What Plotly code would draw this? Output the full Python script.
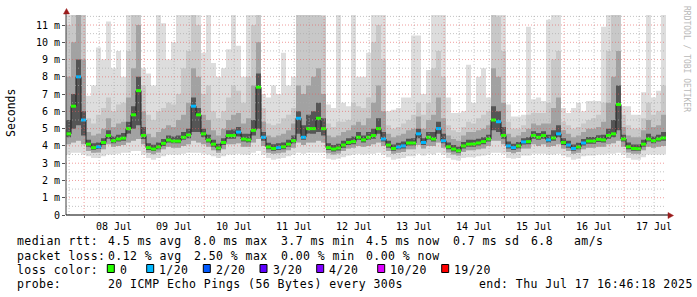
import pandas as pd
import plotly.graph_objects as go

# ---------------- data ----------------
START = "2025-07-07 16:46:18"
END = "2025-07-17 16:46:18"
STEP_HOURS = 2

median_ms = [4.7, 6.3, 8.0, 5.5, 4.1, 3.9, 3.95, 4.2, 4.6, 4.3,
             4.4, 4.45, 5.0, 5.8, 7.2, 4.6, 3.9, 3.82, 3.94, 4.15,
             4.34, 4.28, 4.28, 4.5, 4.63, 6.3, 5.8, 4.7, 4.34, 4.1,
             3.88, 4.2, 4.6, 4.6, 4.8, 4.4, 4.35, 4.9, 7.4, 4.5,
             3.94, 3.85, 3.9, 3.95, 4.1, 4.3, 5.6, 4.5, 5.0, 5.0,
             5.6, 5.0, 3.9, 3.82, 3.88, 4.05, 4.2, 4.25, 4.5, 4.35,
             4.5, 4.6, 5.0, 4.4, 4.05, 3.85, 3.94, 4.0, 4.17, 4.17,
             4.7, 4.2, 4.5, 4.4, 5.0, 4.3, 3.95, 3.82, 3.72, 4.0,
             4.1, 4.11, 4.17, 4.25, 4.4, 5.5, 5.4, 4.6, 4.0, 3.9,
             4.0, 4.23, 4.25, 4.6, 4.5, 4.6, 4.35, 4.46, 4.7, 4.2,
             4.05, 3.85, 3.94, 4.17, 4.28, 4.28, 4.38, 4.35, 4.6, 4.7,
             6.4, 4.4, 3.95, 3.85, 3.84, 4.1, 4.4, 4.3, 4.4, 4.46]

ping_min = [3.5, 3.6, 3.6, 3.5, 3.4, 3.3, 3.3, 3.4, 3.5, 3.5,
            3.55, 3.6, 3.6, 3.7, 3.7, 3.5, 3.3, 3.2, 3.3, 3.4,
            3.5, 3.5, 3.5, 3.55, 3.6, 3.6, 3.6, 3.55, 3.5, 3.4,
            3.3, 3.4, 3.5, 3.5, 3.55, 3.5, 3.5, 3.6, 3.7, 3.5,
            3.3, 3.2, 3.25, 3.3, 3.4, 3.5, 3.6, 3.55, 3.6, 3.6,
            3.6, 3.6, 3.25, 3.2, 3.25, 3.35, 3.45, 3.5, 3.55, 3.5,
            3.55, 3.55, 3.6, 3.5, 3.35, 3.2, 3.25, 3.3, 3.4, 3.4,
            3.55, 3.45, 3.55, 3.5, 3.6, 3.5, 3.3, 3.2, 3.15, 3.3,
            3.35, 3.35, 3.4, 3.45, 3.5, 3.6, 3.6, 3.55, 3.3, 3.25,
            3.3, 3.45, 3.45, 3.55, 3.55, 3.55, 3.5, 3.5, 3.55, 3.45,
            3.35, 3.2, 3.25, 3.4, 3.45, 3.45, 3.5, 3.5, 3.55, 3.55,
            3.6, 3.5, 3.3, 3.2, 3.2, 3.35, 3.5, 3.5, 3.5, 3.5]

ping_low = [4.1, 4.2, 4.3, 4.1, 3.7, 3.6, 3.62, 3.8, 4.1, 3.95,
            4.0, 4.05, 4.2, 4.3, 4.4, 4.1, 3.6, 3.52, 3.62, 3.8,
            3.95, 3.9, 3.9, 4.0, 4.1, 4.3, 4.2, 4.1, 3.95, 3.75,
            3.6, 3.8, 4.1, 4.1, 4.15, 3.95, 3.95, 4.2, 4.4, 4.0,
            3.6, 3.55, 3.58, 3.62, 3.75, 3.9, 4.2, 4.05, 4.2, 4.2,
            4.3, 4.2, 3.58, 3.5, 3.56, 3.7, 3.85, 3.9, 4.0, 3.95,
            4.0, 4.1, 4.2, 4.0, 3.7, 3.55, 3.6, 3.65, 3.8, 3.8,
            4.05, 3.85, 4.0, 4.0, 4.2, 3.9, 3.62, 3.5, 3.45, 3.65,
            3.75, 3.75, 3.8, 3.85, 4.0, 4.3, 4.3, 4.1, 3.65, 3.58,
            3.65, 3.85, 3.85, 4.1, 4.0, 4.1, 3.95, 4.0, 4.1, 3.85,
            3.7, 3.55, 3.6, 3.8, 3.9, 3.9, 3.95, 3.95, 4.1, 4.15,
            4.3, 3.95, 3.62, 3.55, 3.55, 3.75, 3.95, 3.9, 3.95, 4.0]

ping_lowmid = [4.5, 5.0, 5.2, 4.6, 3.95, 3.78, 3.82, 4.05, 4.42, 4.15,
               4.25, 4.3, 4.7, 5.0, 5.2, 4.4, 3.76, 3.7, 3.8, 4.0,
               4.2, 4.15, 4.15, 4.35, 4.45, 4.8, 4.8, 4.5, 4.2, 3.95,
               3.75, 4.05, 4.42, 4.42, 4.55, 4.25, 4.2, 4.6, 5.0, 4.3,
               3.8, 3.72, 3.76, 3.8, 3.95, 4.15, 4.7, 4.35, 4.7, 4.7,
               4.8, 4.6, 3.76, 3.68, 3.74, 3.9, 4.05, 4.1, 4.35, 4.2,
               4.35, 4.42, 4.7, 4.25, 3.9, 3.72, 3.8, 3.85, 4.02, 4.02,
               4.45, 4.05, 4.35, 4.25, 4.7, 4.15, 3.8, 3.68, 3.6, 3.85,
               3.95, 3.95, 4.02, 4.1, 4.25, 4.9, 4.8, 4.42, 3.85, 3.76,
               3.85, 4.08, 4.1, 4.42, 4.35, 4.42, 4.2, 4.3, 4.5, 4.05,
               3.9, 3.72, 3.8, 4.02, 4.12, 4.12, 4.22, 4.2, 4.42, 4.5,
               4.9, 4.25, 3.8, 3.72, 3.72, 3.95, 4.25, 4.15, 4.25, 4.3]

ping_upmid = [5.5, 7.0, 9.0, 6.0, 4.35, 4.15, 4.2, 4.45, 4.9, 4.55,
              4.65, 4.75, 5.4, 6.3, 8.0, 5.1, 4.15, 4.07, 4.2, 4.4,
              4.6, 4.55, 4.6, 4.8, 5.0, 6.8, 6.2, 5.0, 4.65, 4.35,
              4.12, 4.45, 4.9, 4.95, 5.1, 4.7, 4.7, 5.5, 8.2, 4.8,
              4.18, 4.1, 4.15, 4.2, 4.35, 4.6, 6.0, 5.2, 5.8, 6.0,
              6.5, 5.6, 4.15, 4.05, 4.12, 4.3, 4.45, 4.55, 4.8, 4.6,
              4.8, 5.0, 5.6, 4.8, 4.3, 4.08, 4.18, 4.25, 4.42, 4.45,
              5.0, 4.45, 4.8, 4.8, 5.4, 4.7, 4.2, 4.05, 3.95, 4.22,
              4.35, 4.35, 4.42, 4.5, 4.65, 6.3, 6.0, 5.1, 4.25, 4.12,
              4.22, 4.45, 4.5, 4.85, 4.75, 4.85, 4.65, 4.9, 5.2, 4.45,
              4.3, 4.08, 4.18, 4.4, 4.52, 4.52, 4.62, 4.65, 5.0, 5.5,
              7.5, 4.65, 4.2, 4.08, 4.08, 4.35, 4.7, 4.55, 4.65, 4.8]

ping_upper = [8.0, 10.0, 12, 9.0, 4.8, 4.6, 4.7, 5.0, 5.6, 5.1,
              5.3, 5.4, 6.8, 8.5, 11.0, 6.0, 4.7, 4.5, 4.8, 5.0,
              5.2, 5.1, 5.5, 5.8, 6.5, 8.5, 8.0, 5.8, 5.5, 4.9,
              4.6, 5.0, 5.5, 5.8, 5.9, 5.3, 5.6, 7.5, 10.0, 5.4,
              4.6, 4.5, 4.6, 4.7, 4.9, 5.3, 7.5, 7.0, 7.5, 8.0,
              8.5, 7.0, 4.6, 4.5, 4.6, 4.8, 4.9, 5.2, 5.4, 5.2,
              5.6, 6.5, 7.5, 6.0, 4.7, 4.5, 4.6, 4.7, 4.9, 5.0,
              5.7, 5.0, 5.5, 5.8, 6.8, 5.6, 4.6, 4.4, 4.3, 4.6,
              4.8, 4.8, 4.9, 5.0, 5.2, 8.5, 8.0, 6.5, 4.7, 4.5,
              4.6, 4.8, 5.0, 5.3, 5.2, 5.3, 5.3, 6.2, 6.8, 4.9,
              4.7, 4.5, 4.6, 4.8, 5.0, 5.0, 5.1, 5.4, 6.5, 8.0,
              9.5, 5.1, 4.6, 4.5, 4.5, 4.9, 5.5, 5.1, 5.2, 5.8]

ping_high = [11.0, 12, 12, 12, 5.6, 5.3, 5.8, 6.2, 6.8, 6.0,
             6.4, 6.5, 9.5, 12, 12, 7.5, 5.8, 5.5, 6.0, 6.2,
             6.5, 6.4, 7.0, 8.5, 9.5, 12, 11.0, 7.0, 7.5, 6.0,
             5.6, 6.0, 6.8, 7.5, 7.2, 6.5, 8.0, 11.0, 12, 6.2,
             5.3, 5.2, 5.3, 5.6, 5.8, 6.2, 12, 12, 12, 12,
             12, 11.5, 5.3, 5.1, 5.4, 5.4, 5.5, 6.5, 6.3, 6.2,
             6.8, 10.0, 11.0, 9.0, 5.2, 5.0, 5.1, 5.3, 5.5, 5.8,
             6.5, 5.8, 6.5, 8.5, 9.5, 8.0, 5.2, 4.9, 4.8, 5.1,
             5.4, 5.3, 5.6, 5.8, 6.0, 12, 11.5, 9.5, 5.4, 5.0,
             5.0, 5.2, 5.8, 5.9, 5.9, 5.9, 6.5, 9.0, 9.5, 5.4,
             5.2, 5.0, 5.1, 5.3, 5.5, 5.6, 5.8, 6.5, 9.5, 12,
             12, 5.8, 5.2, 5.0, 5.0, 5.6, 6.5, 5.8, 6.0, 7.5]

ping_max = [12, 12, 12, 12, 6.9, 7.5, 9.7, 9.0, 11.2, 8.5,
            9.5, 8.0, 12, 12, 12, 8.5, 8.2, 7.5, 12, 11.1,
            9.0, 10.0, 12, 12, 12, 12, 12, 9.4, 12, 8.8,
            8.0, 8.5, 9.6, 12, 9.8, 8.0, 12, 12, 12, 7.0,
            6.8, 7.5, 7.0, 9.4, 7.5, 8.0, 12, 12, 12, 12,
            12, 12, 6.4, 6.2, 12, 6.5, 6.3, 12, 8.0, 8.0,
            9.4, 12, 12, 12, 6.0, 6.1, 6.2, 6.8, 6.8, 10.4,
            10.4, 7.0, 8.4, 12, 12, 12, 6.8, 5.9, 5.9, 6.0,
            8.7, 6.5, 8.0, 8.5, 6.8, 12, 12, 12, 6.4, 5.7,
            5.7, 5.8, 10.9, 6.7, 6.8, 6.6, 11.3, 12, 12, 6.2,
            5.9, 6.2, 6.5, 6.0, 6.6, 6.6, 6.6, 10.9, 12, 12,
            12, 6.3, 6.3, 5.8, 5.8, 7.1, 12, 6.8, 7.2, 12]

loss_count = [0, 0, 1, 1, 0, 0, 1, 0, 0, 0,
              0, 0, 0, 0, 0, 0, 0, 0, 0, 0,
              0, 0, 0, 0, 0, 1, 0, 0, 0, 0,
              0, 0, 0, 0, 1, 0, 0, 0, 0, 1,
              0, 0, 1, 0, 0, 0, 1, 1, 0, 0,
              0, 0, 0, 0, 0, 0, 0, 0, 0, 0,
              0, 0, 0, 1, 0, 0, 1, 1, 0, 0,
              1, 1, 0, 0, 1, 1, 0, 0, 0, 0,
              0, 0, 0, 0, 0, 0, 1, 0, 1, 1,
              0, 1, 0, 0, 0, 0, 1, 0, 1, 0,
              1, 1, 0, 1, 0, 0, 0, 0, 0, 0,
              0, 0, 0, 0, 0, 0, 0, 0, 0, 0]

y_tick_vals = [0, 1, 2, 3, 4, 5, 6, 7, 8, 9, 10, 11]
y_tick_text = ["0", "1 m", "2 m", "3 m", "4 m", "5 m", "6 m", "7 m", "8 m", "9 m", "10 m", "11 m"]

loss_labels = ["0", "1/20", "2/20", "3/20", "4/20", "10/20", "19/20"]
loss_colors = ["#26ff00", "#00b8ff", "#0059ff", "#5e00ff", "#7e00ff", "#dd00ff", "#ff0000"]

stats_rows = [
    ["median rtt:", "4.5 ms avg", "8.0 ms max", "3.7 ms min", "4.5 ms now", "0.7 ms sd", "6.8", "am/s"],
    ["packet loss:", "0.12 % avg", "2.50 % max", "0.00 % min", "0.00 % now"],
]
probe_text = ["probe:", "20 ICMP Echo Pings (56 Bytes) every 300s", "end: Thu Jul 17 16:46:18 2025"]
watermark = "RRDTOOL / TOBI OETIKER"
y_title = "Seconds"

# ---------------- layout geometry (pixels) ----------------
W, H = 697, 297
PL, PR, PT, PB = 66, 666, 15, 215
Y_MAX = 11.58
MONO = "DejaVu Sans Mono"


def pxx(px):
    return (px - PL) / (PR - PL)


def pxy(py):
    return (PB - py) / (PB - PT)


start = pd.Timestamp(START)
end = pd.Timestamp(END)
n = len(median_ms)
edges = [start + pd.Timedelta(hours=STEP_HOURS * k) for k in range(n + 1)]


def ext(a):
    return list(a) + [a[-1]]


fig = go.Figure()

# smoke bands (outer -> inner)
bands = [(ping_min, ping_max, "#dddddd"),
         (ping_low, ping_high, "#c8c8c8"),
         (ping_low, ping_upper, "#a2a2a2"),
         (ping_lowmid, ping_upmid, "#555555")]
for lo, hi, col in bands:
    fig.add_trace(go.Scatter(x=edges, y=ext(lo), mode="lines", line=dict(width=0, shape="hv"),
                             hoverinfo="skip", showlegend=False))
    fig.add_trace(go.Scatter(x=edges, y=ext(hi), mode="lines", line=dict(width=0, shape="hv"),
                             fill="tonexty", fillcolor=col, hoverinfo="skip", showlegend=False))

# median line (dark step line)
fig.add_trace(go.Scatter(x=edges, y=ext(median_ms), mode="lines",
                         line=dict(color="#202020", width=1, shape="hv"),
                         hoverinfo="skip", showlegend=False))

# colored median segments by loss
for cls in sorted(set(loss_count)):
    xs, ys = [], []
    for i in range(n):
        if loss_count[i] == cls:
            xs += [edges[i], edges[i + 1], None]
            ys += [median_ms[i], median_ms[i], None]
    fig.add_trace(go.Scatter(x=xs, y=ys, mode="lines",
                             line=dict(color=loss_colors[cls], width=3),
                             hoverinfo="skip", showlegend=False))

shapes = []
# grid (drawn above, like rrdtool)
DOT = "1px,2px"
RED = "rgba(230,90,90,0.6)"
GRAY = "rgba(170,170,170,0.7)"
t = pd.Timestamp("2025-07-07 18:00:00")
while t < end:
    major = (t.hour == 0)
    shapes.append(dict(type="line", xref="x", yref="paper", x0=t, x1=t, y0=0, y1=1,
                       line=dict(color=RED if major else GRAY, width=1, dash=DOT), layer="above"))
    t += pd.Timedelta(hours=6)
for k in range(1, 24):
    v = k * 0.5
    major = (k % 2 == 0)
    shapes.append(dict(type="line", xref="paper", yref="y", x0=0, x1=1, y0=v, y1=v,
                       line=dict(color=RED if major else GRAY, width=1, dash=DOT), layer="above"))

# axis lines and arrows
shapes.append(dict(type="line", xref="paper", yref="paper", x0=0, x1=0, y0=0, y1=pxy(13),
                   line=dict(color="#404040", width=1), layer="above"))
shapes.append(dict(type="line", xref="paper", yref="paper", x0=0, x1=pxx(668), y0=0, y1=0,
                   line=dict(color="#000000", width=1), layer="above"))
arrow_col = "#9b1c1c"
shapes.append(dict(type="path", xref="paper", yref="paper",
                   path=f"M {pxx(63.5)},{pxy(14)} L {pxx(66.5)},{pxy(8.5)} L {pxx(69.5)},{pxy(14)} Z",
                   fillcolor=arrow_col, line=dict(color=arrow_col, width=0.5), layer="above"))
shapes.append(dict(type="path", xref="paper", yref="paper",
                   path=f"M {pxx(668)},{pxy(212.5)} L {pxx(673.5)},{pxy(215.5)} L {pxx(668)},{pxy(218.5)} Z",
                   fillcolor=arrow_col, line=dict(color=arrow_col, width=0.5), layer="above"))

annotations = []
SPACING = "letter-spacing:0.45px"


def txt(px, py, s, size=11.5, color="#000000", angle=0, xanchor="left", spaced=True):
    text = f'<span style="{SPACING}">{s}</span>' if spaced else s
    annotations.append(dict(x=pxx(px), y=pxy(py), xref="paper", yref="paper", text=text,
                            showarrow=False, xanchor=xanchor, yanchor="middle", textangle=angle,
                            borderpad=0, font=dict(family=MONO, size=size, color=color)))


# statistics rows
row_y = [241, 255.5]
col_x = [16, 107.3, 193.3, 280, 365, 451.7, 530, 572.7]
for r, row in enumerate(stats_rows):
    for c, s in enumerate(row):
        txt(col_x[c], row_y[r], s)

# loss colour row
txt(16, 269.5, "loss color:")
sq_x = [107.3, 146.7, 203.3, 260, 316.7, 377.7, 441.7]
for c, lab in enumerate(loss_labels):
    x0 = sq_x[c]
    shapes.append(dict(type="rect", xref="paper", yref="paper",
                       x0=pxx(x0), x1=pxx(x0 + 7), y0=pxy(272.5), y1=pxy(264.5),
                       fillcolor=loss_colors[c], line=dict(color="#000000", width=1), layer="above"))
    txt(x0 + 11.5, 269.5, lab)

# probe row
txt(16, 284, probe_text[0])
txt(107.3, 284, probe_text[1])
txt(478.3, 284, probe_text[2])

# y title and watermark
txt(11, 113, y_title, size=11.5, angle=-90, xanchor="center", spaced=False)
txt(686, 59, watermark, size=8, color="#b8b8b8", angle=90, xanchor="center", spaced=False)

fig.update_layout(
    width=W, height=H, autosize=False,
    margin=dict(l=PL, r=W - PR, t=PT, b=H - PB, pad=0),
    paper_bgcolor="white", plot_bgcolor="white",
    showlegend=False,
    shapes=shapes, annotations=annotations,
    xaxis=dict(range=[start, end], showgrid=False, zeroline=False, showline=False,
               ticklabelmode="period", dtick=86400000, tick0="2025-07-08 00:00:00",
               tickformat="%d %b", ticks="outside", ticklen=2, tickcolor="#555555",
               tickfont=dict(family=MONO, size=10, color="#000000")),
    yaxis=dict(range=[0, Y_MAX], showgrid=False, zeroline=False, showline=False,
               tickmode="array", tickvals=y_tick_vals, ticktext=y_tick_text,
               ticks="outside", ticklen=3, tickcolor="#555555",
               tickfont=dict(family=MONO, size=10, color="#000000")),
)

fig.write_html("out.html")
